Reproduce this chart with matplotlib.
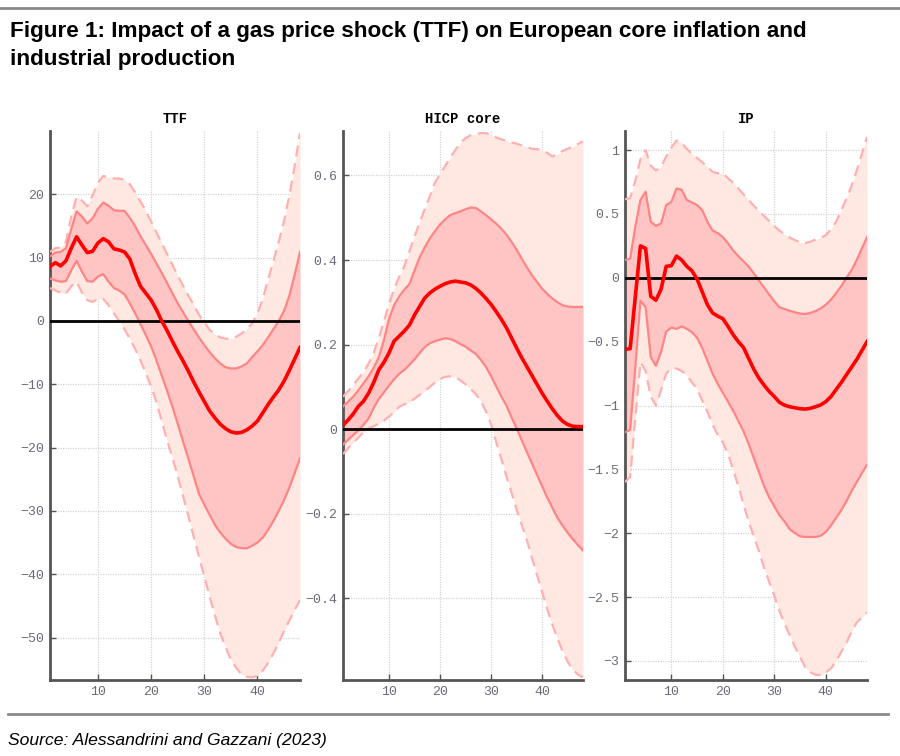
"""Impulse responses to a TTF gas price shock: TTF, HICP core, IP."""

import matplotlib
import matplotlib.pyplot as plt
import numpy as np

matplotlib.use("Agg")

# ── data ─────────────────────────────────────────────────────────────────────

horizon = np.arange(1, 49)

ttf_median = [8.6, 9.2, 8.7, 9.5, 11.5, 13.3, 12.0, 10.8, 11.0, 12.3, 13.0, 12.5,
              11.4, 11.2, 10.9, 9.8, 7.5, 5.5, 4.4, 3.3, 1.8, 0.0, -1.5, -3.2,
              -4.8, -6.3, -7.9, -9.6, -11.2, -12.7, -14.2, -15.3, -16.3, -17.0,
              -17.5, -17.7, -17.6, -17.2, -16.6, -15.8, -14.5, -13.2, -12.0,
              -10.9, -9.5, -7.8, -6.0, -4.2]
ttf_hi68 = [10.2, 10.8, 10.9, 11.5, 14.5, 17.3, 16.5, 15.4, 16.2, 17.7, 18.7, 18.2,
            17.5, 17.4, 17.4, 16.3, 15.0, 13.4, 12.0, 10.6, 9.1, 7.6, 6.0, 4.4,
            2.8, 1.4, 0.0, -1.3, -2.6, -3.8, -4.9, -5.9, -6.7, -7.3, -7.5, -7.5,
            -7.2, -6.7, -5.7, -4.8, -3.8, -2.6, -1.3, 0.0, 1.6, 4.0, 7.3, 10.9]
ttf_lo68 = [6.7, 6.4, 6.2, 6.3, 8.0, 9.5, 7.8, 6.3, 6.2, 7.0, 7.4, 6.2, 5.2, 4.8,
            4.2, 2.8, 1.2, -0.5, -2.2, -4.0, -6.2, -8.6, -11.0, -13.5, -16.2,
            -19.0, -21.7, -24.5, -27.3, -29.0, -30.6, -32.2, -33.4, -34.4, -35.2,
            -35.7, -35.9, -35.9, -35.5, -35.0, -34.2, -33.0, -31.6, -30.0, -28.3,
            -26.3, -24.0, -21.7]
ttf_hi90 = [10.9, 11.5, 11.6, 12.5, 16.5, 19.6, 19.0, 18.1, 19.8, 21.8, 22.9, 22.7,
            22.5, 22.5, 22.3, 21.6, 20.3, 18.9, 17.4, 15.7, 14.0, 12.3, 10.6, 8.9,
            7.2, 5.6, 4.0, 2.6, 1.0, -0.2, -1.4, -2.1, -2.6, -2.8, -2.8, -2.5,
            -2.0, -1.3, -0.4, 1.2, 3.5, 6.5, 9.5, 12.5, 15.8, 19.8, 24.5, 29.7]
ttf_lo90 = [5.2, 4.8, 4.5, 4.3, 5.5, 6.2, 4.5, 3.3, 3.0, 3.5, 3.5, 2.5, 1.2, 0.0,
            -1.3, -2.8, -4.4, -6.2, -8.2, -10.3, -12.8, -15.8, -18.8, -21.5,
            -24.5, -27.6, -30.8, -34.0, -37.2, -40.3, -43.5, -46.5, -49.3, -51.5,
            -53.5, -54.8, -55.8, -56.2, -56.3, -56.0, -55.2, -54.0, -52.5, -50.8,
            -49.0, -47.3, -45.6, -44.1]

hicp_median = [0.009, 0.022, 0.036, 0.054, 0.066, 0.085, 0.11, 0.14, 0.158, 0.18,
               0.208, 0.22, 0.232, 0.246, 0.27, 0.29, 0.31, 0.322, 0.331, 0.338,
               0.344, 0.348, 0.35, 0.348, 0.346, 0.341, 0.333, 0.322, 0.309,
               0.295, 0.278, 0.26, 0.24, 0.216, 0.192, 0.169, 0.148, 0.127,
               0.106, 0.085, 0.066, 0.048, 0.032, 0.019, 0.011, 0.007, 0.006, 0.006]
hicp_hi68 = [0.054, 0.065, 0.077, 0.092, 0.108, 0.125, 0.145, 0.17, 0.21, 0.26,
             0.293, 0.314, 0.33, 0.343, 0.375, 0.406, 0.43, 0.451, 0.468, 0.484,
             0.496, 0.506, 0.511, 0.515, 0.52, 0.524, 0.523, 0.515, 0.506, 0.496,
             0.486, 0.474, 0.46, 0.443, 0.424, 0.403, 0.383, 0.364, 0.348, 0.332,
             0.32, 0.309, 0.3, 0.293, 0.29, 0.289, 0.289, 0.289]
hicp_lo68 = [-0.036, -0.025, -0.014, -0.003, 0.01, 0.025, 0.05, 0.071, 0.087,
             0.103, 0.118, 0.131, 0.14, 0.152, 0.165, 0.18, 0.194, 0.203, 0.208,
             0.212, 0.215, 0.213, 0.208, 0.201, 0.195, 0.186, 0.178, 0.164, 0.147,
             0.125, 0.101, 0.077, 0.056, 0.028, 0.002, -0.026, -0.054, -0.081,
             -0.108, -0.135, -0.162, -0.186, -0.21, -0.228, -0.245, -0.26, -0.274,
             -0.287]
hicp_hi90 = [0.077, 0.09, 0.104, 0.12, 0.135, 0.155, 0.18, 0.215, 0.255, 0.295,
             0.332, 0.36, 0.385, 0.42, 0.455, 0.488, 0.52, 0.55, 0.583, 0.603,
             0.622, 0.642, 0.66, 0.677, 0.688, 0.695, 0.698, 0.7, 0.7, 0.696, 0.69,
             0.685, 0.682, 0.678, 0.675, 0.671, 0.667, 0.663, 0.662, 0.66, 0.653,
             0.645, 0.65, 0.658, 0.663, 0.668, 0.674, 0.681]
hicp_lo90 = [-0.059, -0.045, -0.032, -0.02, -0.007, 0.002, 0.007, 0.013, 0.02, 0.03,
             0.04, 0.053, 0.059, 0.063, 0.072, 0.081, 0.09, 0.1, 0.11, 0.118,
             0.124, 0.125, 0.123, 0.115, 0.106, 0.095, 0.083, 0.066, 0.042, 0.012,
             -0.03, -0.07, -0.112, -0.15, -0.19, -0.226, -0.262, -0.304, -0.345,
             -0.385, -0.425, -0.462, -0.495, -0.525, -0.55, -0.568, -0.58, -0.587]

ip_median = [-0.56, -0.555, -0.15, 0.25, 0.23, -0.145, -0.175, -0.09, 0.09, 0.095,
             0.17, 0.14, 0.09, 0.055, -0.01, -0.11, -0.21, -0.275, -0.3, -0.32,
             -0.38, -0.445, -0.5, -0.545, -0.63, -0.715, -0.785, -0.84, -0.89,
             -0.93, -0.975, -0.998, -1.01, -1.018, -1.025, -1.028, -1.022, -1.01,
             -0.995, -0.97, -0.93, -0.875, -0.82, -0.76, -0.7, -0.64, -0.57, -0.5]
ip_hi68 = [0.14, 0.15, 0.4, 0.61, 0.675, 0.44, 0.407, 0.425, 0.57, 0.595, 0.7, 0.69,
           0.61, 0.59, 0.57, 0.53, 0.44, 0.37, 0.35, 0.32, 0.27, 0.215, 0.17, 0.13,
           0.09, 0.035, -0.02, -0.075, -0.13, -0.185, -0.23, -0.245, -0.258, -0.27,
           -0.28, -0.283, -0.275, -0.26, -0.24, -0.21, -0.17, -0.12, -0.065, 0.0,
           0.06, 0.14, 0.23, 0.318]
ip_lo68 = [-1.21, -1.19, -0.7, -0.18, -0.23, -0.62, -0.69, -0.58, -0.42, -0.39,
           -0.4, -0.38, -0.4, -0.425, -0.47, -0.55, -0.65, -0.75, -0.83, -0.9,
           -0.97, -1.04, -1.12, -1.2, -1.3, -1.41, -1.52, -1.63, -1.72, -1.79,
           -1.86, -1.91, -1.97, -2.0, -2.025, -2.03, -2.03, -2.03, -2.02, -1.99,
           -1.94, -1.88, -1.82, -1.75, -1.67, -1.6, -1.53, -1.465]
ip_hi90 = [0.615, 0.625, 0.76, 0.93, 1.0, 0.88, 0.84, 0.87, 0.95, 1.02, 1.075, 1.06,
           1.01, 0.97, 0.94, 0.905, 0.87, 0.83, 0.82, 0.82, 0.78, 0.745, 0.7, 0.655,
           0.61, 0.565, 0.525, 0.485, 0.445, 0.405, 0.37, 0.34, 0.315, 0.295, 0.278,
           0.272, 0.283, 0.3, 0.315, 0.333, 0.38, 0.44, 0.53, 0.62, 0.72, 0.84,
           0.97, 1.105]
ip_lo90 = [-1.6, -1.56, -1.1, -0.66, -0.73, -0.93, -1.0, -0.88, -0.75, -0.71, -0.71,
           -0.73, -0.76, -0.82, -0.87, -0.96, -1.05, -1.15, -1.23, -1.29, -1.38,
           -1.5, -1.63, -1.77, -1.91, -2.02, -2.14, -2.27, -2.38, -2.49, -2.61,
           -2.71, -2.8, -2.89, -2.97, -3.05, -3.09, -3.11, -3.11, -3.09, -3.06,
           -3.0, -2.93, -2.86, -2.77, -2.7, -2.66, -2.62]

panel_titles = ["TTF", "HICP core", "IP"]
ttf_yticks = [-50, -40, -30, -20, -10, 0, 10, 20]
hicp_yticks = [-0.4, -0.2, 0, 0.2, 0.4, 0.6]
ip_yticks = [-3, -2.5, -2, -1.5, -1, -0.5, 0, 0.5, 1]
x_ticks = [10, 20, 30, 40]

# ── styling ──────────────────────────────────────────────────────────────────

MONO = "Liberation Mono"
TICK_COLOR = "#6b6b78"
SPINE_COLOR = "#555555"
OUTER_FILL = "#ffe8e2"
INNER_FILL = "#ffc4c4"
OUTER_EDGE = "#ffb0b0"
INNER_EDGE = "#ff8585"
MEDIAN_COLOR = "#ff0000"


def _fmt(v: float) -> str:
    if v == 0:
        return "0"
    s = f"{v:g}"
    return s.replace("-", "\u2212")


def _draw_panel(ax, title, med, lo68, hi68, lo90, hi90, yticks, ylim):
    ax.fill_between(horizon, lo90, hi90, color=OUTER_FILL, lw=0, zorder=1)
    ax.fill_between(horizon, lo68, hi68, color=INNER_FILL, lw=0, zorder=2)
    for band in (lo90, hi90):
        ax.plot(horizon, band, color=OUTER_EDGE, lw=1.6, ls=(0, (5, 3)), zorder=3)
    for band in (lo68, hi68):
        ax.plot(horizon, band, color=INNER_EDGE, lw=1.6, zorder=3)
    ax.axhline(0, color="black", lw=2, zorder=4)
    ax.plot(horizon, med, color=MEDIAN_COLOR, lw=2.6, zorder=5)

    ax.set_xlim(1, 48)
    ax.set_ylim(*ylim)
    ax.set_xticks(x_ticks)
    ax.set_yticks(yticks)
    ax.set_yticklabels([_fmt(v) for v in yticks])
    ax.grid(True, color="#d4d4d4", lw=0.9, ls=(0, (1, 1)), zorder=0)
    ax.set_axisbelow(True)
    for side in ("top", "right"):
        ax.spines[side].set_visible(False)
    for side in ("left", "bottom"):
        ax.spines[side].set_color(SPINE_COLOR)
        ax.spines[side].set_linewidth(2)
    ax.tick_params(direction="in", length=4, width=1, color=SPINE_COLOR,
                   labelcolor=TICK_COLOR, labelsize=9.5, pad=4)
    for lab in ax.get_xticklabels() + ax.get_yticklabels():
        lab.set_fontfamily(MONO)
    ax.set_title(title, fontfamily=MONO, fontweight="bold", fontsize=10, pad=6)


# ── figure ───────────────────────────────────────────────────────────────────

plt.rcParams["font.family"] = ["Liberation Sans", "DejaVu Sans"]
fig = plt.figure(figsize=(9, 7.56), dpi=100)

H = 756.0
W = 900.0
ax_bottom = (H - 680) / H
ax_height = (680 - 131) / H
axes = [
    fig.add_axes([50 / W, ax_bottom, 250 / W, ax_height]),
    fig.add_axes([343 / W, ax_bottom, 240 / W, ax_height]),
    fig.add_axes([625 / W, ax_bottom, 242 / W, ax_height]),
]

_draw_panel(axes[0], panel_titles[0], ttf_median, ttf_lo68, ttf_hi68,
            ttf_lo90, ttf_hi90, ttf_yticks, (-56.7, 30))
_draw_panel(axes[1], panel_titles[1], hicp_median, hicp_lo68, hicp_hi68,
            hicp_lo90, hicp_hi90, hicp_yticks, (-0.593, 0.705))
_draw_panel(axes[2], panel_titles[2], ip_median, ip_lo68, ip_hi68,
            ip_lo90, ip_hi90, ip_yticks, (-3.15, 1.15))

# rules, heading and source
fig.add_artist(plt.Line2D([0, 1], [1 - 8 / H, 1 - 8 / H], color="#8a8a8a", lw=2))
fig.add_artist(plt.Line2D([8 / W, 888 / W], [1 - 714 / H, 1 - 714 / H],
                          color="#8a8a8a", lw=2))
fig.text(10 / W, 1 - 21 / H,
         "Figure 1: Impact of a gas price shock (TTF) on European core inflation and\n"
         "industrial production",
         ha="left", va="top", fontsize=16.2, fontweight="bold", linespacing=1.45)
fig.text(8 / W, 1 - 741 / H, "Source: Alessandrini and Gazzani (2023)",
         ha="left", va="center", fontsize=12.6, style="italic")

fig.savefig("out.png", dpi=100)
plt.close(fig)
